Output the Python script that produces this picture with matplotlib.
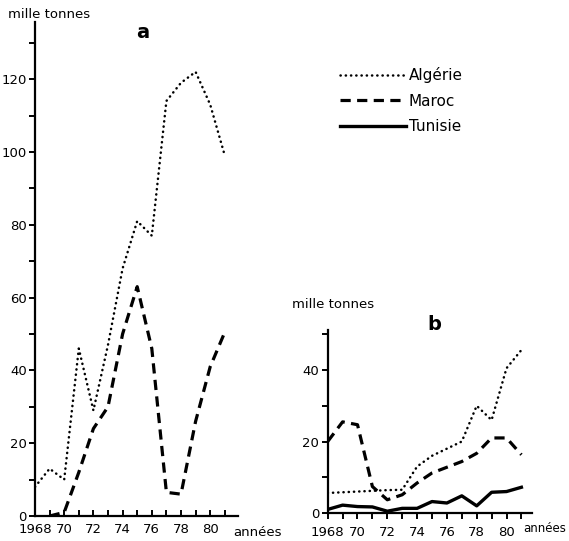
import matplotlib.pyplot as plt
import matplotlib.transforms as mtransforms

plt.rcParams['font.family'] = ['DejaVu Sans']

# panel a : 1968-1981
years_a = [1968, 1969, 1970, 1971, 1972, 1973, 1974, 1975, 1976, 1977, 1978, 1979, 1980, 1981]
algerie_a = [8, 13, 10, 46, 29, 47, 68, 81, 77, 114, 119, 122, 113, 99]
maroc_years_a = [1969, 1970, 1971, 1972, 1973, 1974, 1975, 1976, 1977, 1978, 1979, 1980, 1981]
maroc_a = [0, 1, 12, 24, 30, 50, 63, 46, 6.5, 6, 26, 41, 50.5]

# panel b
years_b = [1968, 1969, 1970, 1971, 1972, 1973, 1974, 1975, 1976, 1977, 1978, 1979, 1980, 1981]
algerie_b = [5.6, 5.8, 6.0, 6.2, 6.4, 6.5, 13, 16, 18, 20, 30, 26, 40.5, 45.6]
maroc_b = [20, 25.5, 24.7, 7.4, 3.7, 5.1, 8.4, 11.2, 12.8, 14.4, 16.7, 21, 21, 16.3]
tunisie_b = [1.0, 2.2, 1.8, 1.7, 0.5, 1.3, 1.3, 3.2, 2.8, 4.8, 2.0, 5.8, 6.0, 7.2]

year_labels = ['1968', '70', '72', '74', '76', '78', '80']

W, H = 569, 541
fig = plt.figure(figsize=(W / 100, H / 100), dpi=100)


def px(x, y):
    return x / W, 1 - y / H


dot = dict(color='black', lw=1.8, linestyle=(0, (0.1, 2.0)), dash_capstyle='round')
dash = dict(color='black', lw=2.3, linestyle=(0, (3.2, 2.0)))
solid = dict(color='black', lw=2.4)
fs = 9.5


def style_axes(ax, ymax, xmax):
    ax.set_xlim(1968, xmax)
    ax.set_ylim(0, ymax)
    for s in ['top', 'right']:
        ax.spines[s].set_visible(False)
    for s in ['left', 'bottom']:
        ax.spines[s].set_linewidth(1.6)
    ax.set_xticks(range(1968, 1982))
    ax.set_xticklabels([year_labels[(y - 1968) // 2] if y % 2 == 0 and y <= 1980 else '' for y in range(1968, 1982)])
    ax.set_yticks(range(0, int(ymax) + 1, 20))
    ax.set_yticks(range(10, int(ymax) + 1, 20), minor=True)
    ax.tick_params(axis='y', which='both', direction='out', length=4, width=1.4, labelsize=fs, pad=2)
    ax.tick_params(axis='x', which='both', length=4, width=1.4, labelsize=fs, pad=5)
    # shift the 1968 label to the left
    lab = ax.get_xticklabels()[0]
    lab.set_transform(lab.get_transform() + mtransforms.ScaledTranslation(-9 / 100, 0, fig.dpi_scale_trans))


# panel a
ax1 = fig.add_axes([35 / W, 1 - 516 / H, (238 - 35) / W, (516 - 22) / H])
ax1.plot(years_a, algerie_a, label='Algérie', **dot)
ax1.plot(maroc_years_a, maroc_a, label='Maroc', **dash)
ax1.plot([], [], label='Tunisie', **solid)
style_axes(ax1, 135.7, 1968 + (238 - 35) / 14.6)
ax1.tick_params(axis='x', direction='in')
fig.text(*px(8, 15), 'mille tonnes', fontsize=fs, ha='left', va='center')
fig.text(*px(143, 33), 'a', fontsize=14, fontweight='bold', ha='center', va='center')
fig.text(*px(233, 532), 'années', fontsize=fs, ha='left', va='center')

leg = ax1.legend(loc='upper left', bbox_to_anchor=px(340, 67), bbox_transform=fig.transFigure,
                 frameon=False, fontsize=11, handlelength=4.3, handletextpad=0.2, labelspacing=0.7,
                 borderpad=0, borderaxespad=0)

# panel b
ax2 = fig.add_axes([327.7 / W, 1 - 513 / H, (532 - 327.7) / W, (513 - 330) / H])
ax2.plot(years_b, algerie_b, **dot)
ax2.plot(years_b, maroc_b, **dash)
ax2.plot(years_b, tunisie_b, **solid)
style_axes(ax2, 51.2, 1968 + (532 - 327.7) / 14.9)
ax2.tick_params(axis='x', direction='out')
fig.text(*px(292, 305), 'mille tonnes', fontsize=fs, ha='left', va='center')
fig.text(*px(434, 325), 'b', fontsize=14, fontweight='bold', ha='center', va='center')
fig.text(*px(566, 528), 'années', fontsize=8.5, ha='right', va='center')

fig.savefig('out.png', dpi=100)
